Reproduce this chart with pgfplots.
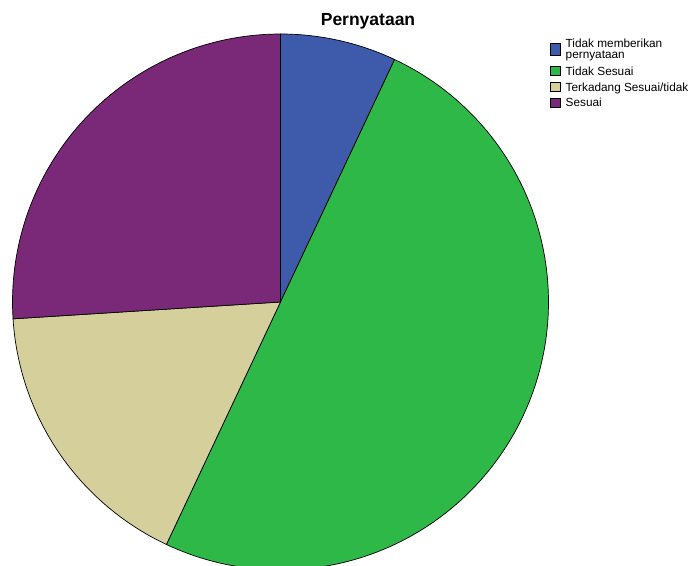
\documentclass[border=0pt]{standalone}
\usepackage{pgfplots}
\pgfplotsset{compat=1.18}
\usepackage{fontspec}
\setmainfont{Liberation Sans}
\newfontfamily\legfont{Liberation Sans}
\definecolor{cblue}{HTML}{3E5AAB}
\definecolor{cgreen}{HTML}{2EB847}
\definecolor{ctan}{HTML}{D5CF9B}
\definecolor{cpurple}{HTML}{7A2878}
\tikzset{lg/.style={anchor=base west, inner sep=0pt, outer sep=0pt, text height=9pt, text depth=0pt, font=\legfont\fontsize{11.8}{12}\selectfont}}
\pgfplotsset{
  boxleg/.style={legend image code/.code={\draw[fill=#1, draw=black, line width=0.5pt] (0pt,0pt) rectangle (10pt,9pt);}},
  boxlegtwo/.style={legend image code/.code={\draw[fill=#1, draw=black, line width=0.5pt] (0pt,-8pt) rectangle (10pt,4.7pt);}},
}
% percentages
\def\nA{7}\def\nB{50}\def\nC{17}\def\nD{26}
\pgfmathsetmacro{\tot}{\nA+\nB+\nC+\nD}
\pgfmathsetmacro{\aA}{90}
\pgfmathsetmacro{\aB}{\aA-360*(\nA/\tot)}
\pgfmathsetmacro{\aC}{\aB-360*(\nB/\tot)}
\pgfmathsetmacro{\aD}{\aC-360*(\nC/\tot)}
\pgfmathsetmacro{\aE}{\aD-360*(\nD/\tot)}
\begin{document}
\begin{tikzpicture}
\begin{axis}[
  scale only axis, width=696pt, height=566pt,
  hide axis,
  xmin=-1.04664, xmax=1.55037, ymin=-0.98507, ymax=1.12687,
  legend cell align=left,
  legend style={at={(rel axis cs:0.78980,0.93154)}, anchor=north west,
    draw=none, fill=none, inner sep=0pt, outer sep=0pt,
    row sep=6.05pt, column sep=5.5pt},
]
\addplot[fill=cblue, draw=black, line width=0.7pt, domain=\aB:\aA, samples=40, variable=\t, boxlegtwo=cblue]
  ({cos(\t)},{sin(\t)}) -- (axis cs:0,0) -- cycle;
\addlegendentry[lg, text depth=12.7pt]{\smash{\vtop{\baselineskip=11pt\lineskiplimit=-20pt\hbox{Tidak memberikan}\hbox{pernyataan}}}}
\addplot[fill=cgreen, draw=black, line width=0.7pt, domain=\aC:\aB, samples=150, variable=\t, boxleg=cgreen]
  ({cos(\t)},{sin(\t)}) -- (axis cs:0,0) -- cycle;
\addlegendentry[lg]{Tidak Sesuai}
\addplot[fill=ctan, draw=black, line width=0.7pt, domain=\aD:\aC, samples=60, variable=\t, boxleg=ctan]
  ({cos(\t)},{sin(\t)}) -- (axis cs:0,0) -- cycle;
\addlegendentry[lg]{Terkadang Sesuai/tidak}
\addplot[fill=cpurple, draw=black, line width=0.7pt, domain=\aE:\aD, samples=80, variable=\t, boxleg=cpurple]
  ({cos(\t)},{sin(\t)}) -- (axis cs:0,0) -- cycle;
\addlegendentry[lg]{Sesuai}
\node[anchor=base, inner sep=0pt, font=\bfseries\fontsize{17.5}{20}\selectfont] at (rel axis cs:0.52874,0.95406) {Pernyataan};
\end{axis}
\pgfresetboundingbox
\useasboundingbox (current axis.south west) rectangle (current axis.north east);
\end{tikzpicture}
\end{document}
